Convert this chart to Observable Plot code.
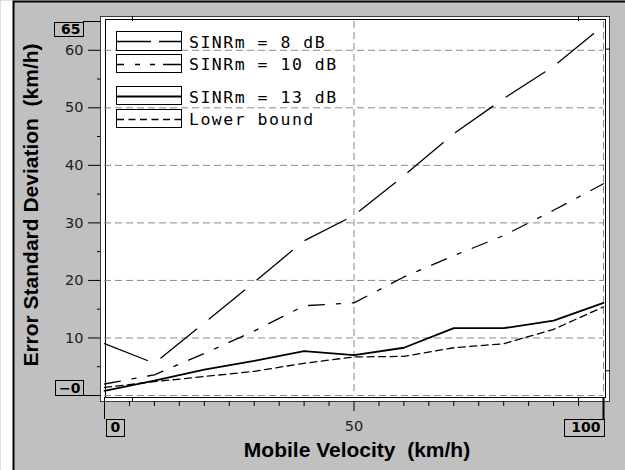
<!DOCTYPE html>
<html><head><meta charset="utf-8">
<script src="https://cdn.jsdelivr.net/npm/d3@7"></script>
<script src="https://cdn.jsdelivr.net/npm/@observablehq/plot@0.6"></script>
<style>
html,body{margin:0;padding:0;background:#c0c0c0;overflow:hidden}
#chart svg{display:block;max-width:none}
svg text{white-space:pre}
</style>
</head><body><div id="chart"></div>
<script>
// ---- data ----
const velocity   = [0, 10, 20, 30, 40, 50, 60, 70, 80, 90, 100];
const sinr8      = [9.0, 5.6, 12.6, 19.7, 26.9, 31.3, 38.2, 45.5, 51.6, 57.2, 64.3];
const sinr10     = [2.0, 3.6, 7.3, 11.2, 15.6, 16.1, 20.6, 24.3, 27.8, 32.2, 36.8];
const sinr13     = [0.8, 2.6, 4.5, 6.0, 7.7, 7.0, 8.3, 11.7, 11.7, 13.0, 16.1];
const lowerBound = [1.4, 2.4, 3.3, 4.2, 5.6, 6.7, 6.8, 8.3, 9.0, 11.5, 15.4];
const seriesNames = ["SINRm = 8 dB", "SINRm = 10 dB", "SINRm = 13 dB", "Lower bound"];
const seriesValues = [sinr8, sinr10, sinr13, lowerBound];

const yMajorTicks = [10, 20, 30, 40, 50, 60];
const yMinorTicks = [5, 15, 25, 35, 45, 55];
const yGridLines  = [0, 10, 20, 30, 40, 50, 60];
const xGridLines  = [50, 100];
const xMajorTicks = [50];
const xMinorTicks = [5, 10, 15, 20, 25, 30, 35, 40, 45, 55, 60, 65, 70, 75, 80, 85, 90, 95];
const xEndTicks   = [0, 100];
const yEndTicks   = [0, 65];
const yEndLabels  = ["\u22120", "65"];
const cursorX     = [5.6, 95];
const cursorY     = [4.3, 60.2];
const xTitle = "Mobile Velocity  (km/h)";
const yTitle = "Error Standard Deviation  (km/h)";

// ---- styles ----
const lineStyle = {
  "SINRm = 8 dB":  {dash: "46,16", width: 1.3, legendDash: "34,8"},
  "SINRm = 10 dB": {dash: "16,12,4,12", width: 1.3, legendDash: "7,11,5,10,5,8,30"},
  "SINRm = 13 dB": {dash: null, width: 1.8, legendDash: null},
  "Lower bound":   {dash: "7,4.5", width: 1.3, legendDash: "7,4.5"}
};

const rows = seriesNames.flatMap((s, i) => velocity.map((v, j) => ({series: s, v, value: seriesValues[i][j]})));

const numFont = "DejaVu Sans";
const titleFont = "Liberation Sans";
const blank = () => "";
const M = {left: 104, right: 22, top: 21, bottom: 75};

const plot = Plot.plot({
  width: 625,
  height: 470,
  marginLeft: M.left,
  marginRight: M.right,
  marginTop: M.top,
  marginBottom: M.bottom,
  style: {background: "#c0c0c0", fontFamily: numFont, fontSize: "14px", overflow: "visible", maxWidth: "none"},
  x: {domain: [0, 100]},
  y: {domain: [0, 65]},
  marks: [
    // window panel: white strip at far left, black left/top edges, gray panel
    Plot.frame({fill: "#ffffff", stroke: "none", insetLeft: -M.left, insetRight: -M.right, insetTop: -M.top, insetBottom: -M.bottom}),
    Plot.frame({fill: "#000000", stroke: "none", insetLeft: -(M.left - 12), insetRight: -M.right, insetTop: -M.top, insetBottom: -M.bottom}),
    Plot.frame({fill: "#c0c0c0", stroke: "none", insetLeft: -(M.left - 14), insetRight: -M.right, insetTop: -(M.top - 2), insetBottom: -M.bottom}),
    // plot box
    Plot.frame({fill: "white", stroke: "#3a3a3a", insetLeft: -4, insetRight: -6, insetTop: -5, insetBottom: -6}),
    Plot.frame({stroke: "black", insetLeft: 1, insetRight: -2, insetTop: -2, insetBottom: -2}),
    Plot.ruleY(yGridLines, {y: d => d, stroke: "#8a8a8a", strokeDasharray: "7,4", strokeOpacity: 1}),
    Plot.ruleX(xGridLines, {x: d => d, stroke: "#8a8a8a", strokeDasharray: "7,4", strokeOpacity: 1}),
    ...seriesNames.map(s => Plot.line(rows.filter(r => r.series === s), {
      x: "v", y: "value", stroke: "black",
      strokeWidth: lineStyle[s].width,
      strokeDasharray: lineStyle[s].dash,
      strokeLinejoin: "miter"
    })),
    // y axis
    Plot.axisY(yMajorTicks, {tickSize: 12, dx: -4, tickPadding: 5, fontSize: 14.5, label: null, fill: "#202020"}),
    Plot.axisY(yMinorTicks, {tickSize: 3, dx: -4, tickFormat: blank, label: null}),
    Plot.axisY(yEndTicks, {tickSize: 17, dx: -4, tickFormat: blank, label: null}),
    Plot.text([yEndLabels[1]], {frameAnchor: "top-left", textAnchor: "end", lineAnchor: "top", dx: -24, dy: 3,
      fontWeight: "bold", fontSize: 14}),
    Plot.text([yEndLabels[0]], {frameAnchor: "bottom-left", textAnchor: "end", lineAnchor: "bottom", dx: -24, dy: -3,
      fontWeight: "bold", fontSize: 14}),
    // x axis
    Plot.axisX(xMinorTicks, {tickSize: 5, dy: 6, tickFormat: blank, label: null}),
    Plot.axisX(xMajorTicks, {tickSize: 10, dy: 6, tickPadding: 9, fontSize: 14.5, label: null, fill: "#202020"}),
    Plot.axisX([xEndTicks[0]], {tickSize: 22, dy: 2, tickFormat: blank, label: null}),
    Plot.axisX([xEndTicks[1]], {tickSize: 22, dy: 2, tickFormat: blank, label: null, strokeWidth: 2}),
    Plot.text([xEndTicks[0]], {x: d => d, frameAnchor: "bottom", text: d => String(d), textAnchor: "start",
      lineAnchor: "top", dx: 6, dy: 27, fontWeight: "bold", fontSize: 14}),
    Plot.text([xEndTicks[1]], {x: d => d, frameAnchor: "bottom", text: d => String(d), textAnchor: "end",
      lineAnchor: "top", dx: -3, dy: 27, fontWeight: "bold", fontSize: 14}),
    // cursor markers
    Plot.axisX(cursorX, {anchor: "top", tickSize: 5, dy: -1, tickFormat: blank, label: null}),
    Plot.axisX(cursorX, {anchor: "bottom", tickSize: 4, dy: 3, tickFormat: blank, label: null}),
    Plot.axisY(cursorY, {anchor: "right", tickSize: 5, dx: 1, tickFormat: blank, label: null}),
    // titles
    Plot.text([yTitle], {frameAnchor: "left", rotate: -90, textAnchor: "middle", lineAnchor: "middle",
      dx: -73, dy: -3.5, fontSize: 21, fontWeight: "bold", fontFamily: titleFont}),
    Plot.text([xTitle], {frameAnchor: "bottom", textAnchor: "middle", lineAnchor: "middle",
      dx: 3, dy: 55, fontSize: 21, fontWeight: "bold", fontFamily: titleFont})
  ]
});

document.getElementById("chart").appendChild(plot);
const svg = d3.select(plot);
const sx = plot.scale("x"), sy = plot.scale("y");

// boxes around the axis end labels, positioned from the scales
const boxes = svg.append("g").attr("fill", "none").attr("stroke", "black").attr("stroke-width", 1);
const yTopPx = Math.round(sy.apply(yEndTicks[1]));
const yBotPx = Math.round(sy.apply(yEndTicks[0]));
const x0Px = Math.round(sx.apply(xEndTicks[0]));
const x1Px = Math.round(sx.apply(xEndTicks[1]));
const axisBottom = 470 - M.bottom;
[
  {x: 54.5, y: yTopPx + 1.5, w: 29, h: 14},
  {x: 55.5, y: yBotPx - 14.5, w: 28, h: 15},
  {x: x0Px + 2.5, y: axisBottom + 24.5, w: 18, h: 17},
  {x: x1Px - 38.5, y: axisBottom + 24.5, w: 40, h: 17}
].forEach(b => boxes.append("rect").attr("x", b.x).attr("y", b.y).attr("width", b.w).attr("height", b.h));

// legend
const legendRows = [
  {top: 31.5, h: 19, base: 47.5},
  {top: 54.5, h: 18, base: 69.5},
  {top: 86.5, h: 18, base: 103},
  {top: 109.5, h: 18, base: 125}
];
const lg = svg.append("g").attr("font-family", "DejaVu Sans Mono").attr("font-size", 16.5)
  .attr("text-anchor", "start");
seriesNames.forEach((s, i) => {
  const r = legendRows[i];
  lg.append("rect").attr("x", 116.5).attr("y", r.top).attr("width", 65).attr("height", r.h)
    .attr("fill", "white").attr("stroke", "black");
  const ly = Math.round(r.top + r.h / 2) + 0.5;
  const ln = lg.append("line").attr("x1", 117).attr("x2", 181).attr("y1", ly).attr("y2", ly)
    .attr("stroke", "black").attr("stroke-width", lineStyle[s].width);
  if (lineStyle[s].legendDash) ln.attr("stroke-dasharray", lineStyle[s].legendDash);
  lg.append("text").attr("x", 189).attr("y", r.base).attr("letter-spacing", "1.5px")
    .attr("fill", "black").attr("text-anchor", "start").text(s);
});
</script>
</body></html>
